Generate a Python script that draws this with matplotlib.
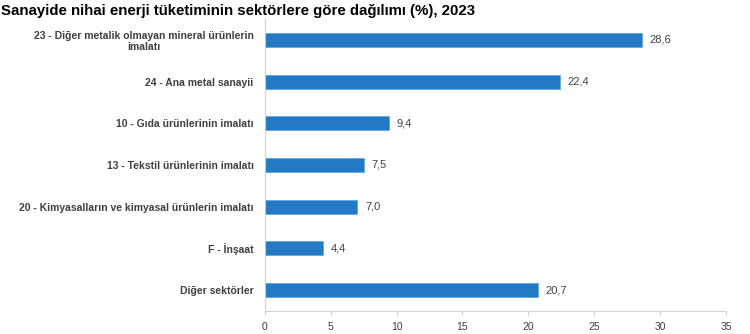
import matplotlib.pyplot as plt

# data
sectors = [
    "23 - Diğer metalik olmayan mineral ürünlerin\nimalatı",
    "24 - Ana metal sanayii",
    "10 - Gıda ürünlerinin imalatı",
    "13 - Tekstil ürünlerinin imalatı",
    "20 - Kimyasalların ve kimyasal ürünlerin imalatı",
    "F - İnşaat",
    "Diğer sektörler",
]
shares = [28.6, 22.4, 9.4, 7.5, 7.0, 4.4, 20.7]
share_labels = ["28,6", "22,4", "9,4", "7,5", "7,0", "4,4", "20,7"]
xticks = [0, 5, 10, 15, 20, 25, 30, 35]

plt.rcParams['font.family'] = ['Liberation Sans', 'DejaVu Sans']

fig = plt.figure(figsize=(7.5, 3.34), dpi=100)
ax = fig.add_axes([0.353, 0.069, 0.615, 0.874])

y = list(range(len(sectors)))
ax.barh(y, shares, height=0.34, color='#2479c4', edgecolor='#5aa3dc', linewidth=0.5)
ax.set_ylim(len(sectors) - 0.5, -0.5)
ax.set_xlim(0, 35)

for yi, v, lab in zip(y, shares, share_labels):
    ax.text(v + 0.6, yi, lab, va='center', ha='left', fontsize=8, color='#404040')

ax.set_yticks(y)
ax.set_yticklabels(sectors, fontsize=7.5, fontweight='bold', color='#404040',
                   multialignment='center')
ax.tick_params(axis='y', length=0, pad=8)

ax.set_xticks(xticks)
ax.set_xticklabels([str(t) for t in xticks], fontsize=7.5, color='#404040')
ax.tick_params(axis='x', length=3, color='#d0d0d0', pad=5)

for s in ['top', 'right']:
    ax.spines[s].set_visible(False)
ax.spines['left'].set_color('#d0d0d0')
ax.spines['bottom'].set_color('#d0d0d0')

fig.text(0.001, 0.988, "Sanayide nihai enerji tüketiminin sektörlere göre dağılımı (%), 2023",
         ha='left', va='top', fontsize=10.8, fontweight='bold', color='#000000')

fig.savefig('out.png', dpi=100)
